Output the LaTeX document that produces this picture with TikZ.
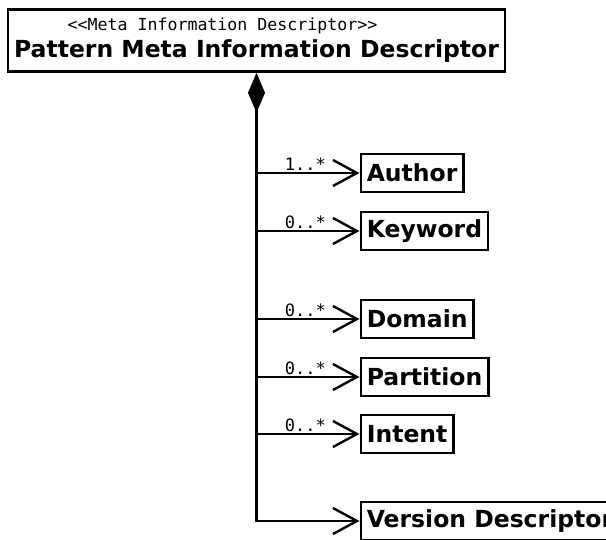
\documentclass[tikz,border=0pt]{standalone}
\usepackage{fontspec}
\setmainfont{DejaVu Sans}
\setmonofont{DejaVu Sans Mono}
\usetikzlibrary{arrows.meta, positioning}

\begin{document}
\begin{tikzpicture}[
    x=1pt, y=-1pt,
    cls/.style={rectangle, draw=black, line width=2.6pt, minimum height=38pt,
                inner xsep=6pt, inner ysep=1pt, font=\fontsize{23.5}{30}\selectfont\bfseries},
    assoc/.style={-{Straight Barb[length=24pt, width=26pt]}, line width=2.4pt},
    comp/.style={{Diamond[length=40pt, width=17pt]}-{Straight Barb[length=24pt, width=26pt]}, line width=2.4pt},
    mult/.style={font=\fontsize{17}{19}\ttfamily, anchor=south east, inner sep=1.5pt},
]
\useasboundingbox (0,0) rectangle (606,540);
\clip (0,0) rectangle (606,540);

\node[cls, align=center, minimum width=490pt, minimum height=62pt] (pmid) at (256.5,40.5)
  {{\fontsize{16.6}{18}\mdseries\ttfamily <{}<Meta Information Descriptor>{}>}\hspace*{68pt}\\[-3pt]Pattern Meta Information Descriptor};

\node[cls, anchor=west] (author) at (359.5,173) {Author};
\node[cls, below right=17.4pt and 0pt of author.south west] (keyword) {Keyword};
\node[cls, below right=47.4pt and 0pt of keyword.south west] (domain) {Domain};
\node[cls, below right=17.4pt and 0pt of domain.south west] (partition) {Partition};
\node[cls, below right=16.4pt and 0pt of partition.south west] (intent) {Intent};
\node[cls, below right=46.4pt and 0pt of intent.south west] (version) {Version Descriptor};

% composition trunk
\draw[comp] (pmid.south) |- (version.west);

% associations
\draw[assoc] (pmid.south |- author.west) -- (author.west) node[mult, pos=0.7] {1..*};
\draw[assoc] (pmid.south |- keyword.west) -- (keyword.west) node[mult, pos=0.7] {0..*};
\draw[assoc] (pmid.south |- domain.west) -- (domain.west) node[mult, pos=0.7] {0..*};
\draw[assoc] (pmid.south |- partition.west) -- (partition.west) node[mult, pos=0.7] {0..*};
\draw[assoc] (pmid.south |- intent.west) -- (intent.west) node[mult, pos=0.7] {0..*};

\end{tikzpicture}
\end{document}
